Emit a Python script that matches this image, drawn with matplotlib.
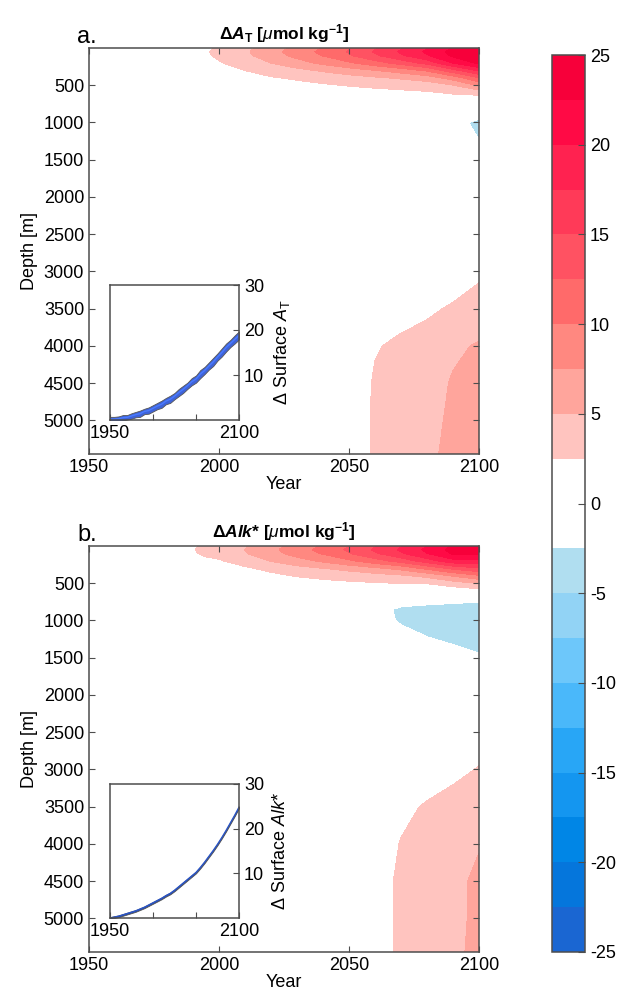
import numpy as np
import matplotlib
matplotlib.use('Agg')
import matplotlib.pyplot as plt
from matplotlib.colors import ListedColormap, BoundaryNorm

plt.rcParams['font.family'] = ['Liberation Sans', 'DejaVu Sans']
plt.rcParams['axes.unicode_minus'] = False
plt.rcParams['mathtext.fontset'] = 'custom'
plt.rcParams['mathtext.rm'] = 'Liberation Sans'
plt.rcParams['mathtext.it'] = 'Liberation Sans:italic'
plt.rcParams['mathtext.bf'] = 'Liberation Sans:bold'
plt.rcParams['mathtext.bfit'] = 'Liberation Sans:italic:bold'

# grid of the sections (columns = years, rows = depth)
years = [1950, 1990, 1995, 2000, 2010, 2020, 2030, 2040, 2050, 2060, 2070, 2080, 2090, 2100]
depths = [0, 50, 100, 200, 300, 400, 500, 600, 700, 850, 1000, 1200, 1500,
          2000, 2500, 3000, 3500, 4000, 4500, 5000, 5450]

d_at = [
    [0.2, 1.4, 2.1, 2.8, 4.3, 6.2, 8.2, 10.1, 12.2, 14.7, 17.2, 19.8, 22.6, 24.9],
    [0.2, 1.5, 2.3, 3.0, 4.6, 6.6, 8.6, 10.6, 12.7, 15.2, 17.8, 20.4, 23.3, 24.9],
    [0.2, 1.4, 2.2, 2.9, 4.4, 6.3, 8.2, 10.1, 12.2, 14.6, 17.1, 19.7, 23.0, 24.4],
    [0.1, 1.0, 1.6, 2.3, 3.5, 5.0, 6.5, 8.0, 9.6, 11.4, 13.4, 15.8, 20.0, 23.0],
    [0.1, 0.7, 1.1, 1.6, 2.5, 3.4, 4.3, 5.3, 6.3, 7.4, 8.6, 10.3, 14.0, 17.8],
    [0.0, 0.5, 0.8, 1.1, 1.7, 2.3, 2.8, 3.4, 4.0, 4.6, 5.3, 6.2, 8.5, 12.3],
    [0.0, 0.3, 0.5, 0.7, 1.1, 1.5, 1.8, 2.2, 2.6, 2.9, 3.2, 3.6, 4.8, 7.8],
    [0.0, 0.2, 0.3, 0.5, 0.7, 1.0, 1.2, 1.4, 1.6, 1.8, 2.0, 2.2, 2.7, 3.2],
    [0.0, 0.1, 0.2, 0.3, 0.4, 0.6, 0.7, 0.8, 0.9, 1.0, 1.1, 1.2, 1.4, 1.0],
    [0.0, 0.0, 0.1, 0.1, 0.2, 0.3, 0.3, 0.4, 0.4, 0.4, 0.4, 0.4, 0.3, -1.0],
    [0.0, 0.0, 0.0, 0.0, 0.0, 0.0, 0.0, 0.0, 0.0, -0.2, -0.4, -0.6, -1.5, -3.2],
    [0.0, 0.0, 0.0, 0.0, 0.0, 0.0, 0.0, 0.0, -0.1, -0.2, -0.4, -0.6, -1.0, -2.6],
    [0.0, 0.0, 0.0, 0.0, 0.0, 0.0, 0.0, 0.0, 0.0, -0.1, -0.2, -0.3, -0.5, -1.0],
    [0.0, 0.0, 0.0, 0.0, 0.0, 0.0, 0.0, 0.0, 0.0, 0.0, 0.0, 0.0, 0.0, 0.0],
    [0.0, 0.0, 0.0, 0.0, 0.0, 0.0, 0.1, 0.1, 0.2, 0.3, 0.4, 0.5, 0.7, 1.0],
    [0.0, 0.0, 0.0, 0.0, 0.1, 0.1, 0.2, 0.2, 0.3, 0.5, 0.8, 1.0, 1.5, 2.0],
    [0.0, 0.0, 0.0, 0.1, 0.1, 0.2, 0.3, 0.4, 0.5, 0.8, 1.5, 2.2, 2.7, 3.6],
    [0.0, 0.0, 0.0, 0.1, 0.1, 0.2, 0.3, 0.4, 0.3, 2.3, 3.0, 3.2, 4.6, 5.2],
    [0.0, 0.0, 0.0, 0.1, 0.2, 0.2, 0.3, 0.4, 0.5, 2.8, 3.4, 4.0, 5.2, 6.0],
    [0.0, 0.0, 0.0, 0.1, 0.2, 0.3, 0.4, 0.5, 0.6, 2.9, 3.6, 4.3, 5.4, 6.3],
    [0.0, 0.0, 0.0, 0.1, 0.2, 0.3, 0.4, 0.5, 0.7, 2.9, 3.7, 4.5, 5.6, 6.5],
]

d_alk = [
    [0.3, 2.3, 2.8, 3.2, 4.8, 6.6, 8.4, 10.3, 12.4, 14.8, 17.3, 20.0, 22.8, 24.9],
    [0.3, 2.4, 2.9, 3.3, 5.0, 6.9, 8.8, 10.8, 12.9, 15.3, 17.8, 20.5, 23.3, 24.5],
    [0.3, 2.3, 2.8, 3.1, 4.8, 6.6, 8.4, 10.2, 12.3, 14.6, 17.1, 19.9, 22.8, 23.2],
    [0.2, 1.7, 2.1, 2.3, 3.3, 5.1, 6.5, 7.9, 9.5, 11.4, 13.4, 16.2, 19.0, 19.2],
    [0.1, 1.2, 1.5, 1.6, 2.2, 3.0, 4.1, 4.9, 5.8, 6.9, 8.2, 10.5, 13.0, 14.6],
    [0.1, 0.8, 1.0, 1.1, 1.5, 2.0, 2.6, 3.0, 3.4, 3.9, 4.5, 5.6, 7.6, 9.5],
    [0.0, 0.5, 0.6, 0.7, 1.0, 1.3, 1.6, 1.9, 2.1, 2.3, 2.5, 2.6, 3.8, 5.0],
    [0.0, 0.3, 0.4, 0.5, 0.7, 0.8, 1.0, 1.1, 1.2, 1.2, 1.0, 0.2, 0.8, 1.5],
    [0.0, 0.2, 0.2, 0.3, 0.4, 0.5, 0.5, 0.5, 0.4, -0.5, -1.0, -1.8, -1.9, -2.0],
    [0.0, 0.1, 0.1, 0.1, 0.1, 0.1, 0.0, -0.1, -0.3, -1.5, -3.0, -3.0, -3.2, -3.5],
    [0.0, 0.0, 0.0, 0.0, 0.0, 0.0, -0.1, -0.2, -0.4, -1.4, -2.8, -3.1, -3.5, -3.8],
    [0.0, 0.0, 0.0, 0.0, 0.0, 0.0, -0.1, -0.2, -0.3, -1.0, -1.8, -2.6, -3.0, -3.3],
    [0.0, 0.0, 0.0, 0.0, 0.0, 0.0, 0.0, -0.1, -0.2, -0.5, -0.8, -1.2, -1.8, -2.3],
    [0.0, 0.0, 0.0, 0.0, 0.0, 0.0, 0.0, 0.0, 0.0, -0.1, -0.2, -0.3, -0.4, -0.5],
    [0.0, 0.0, 0.0, 0.0, 0.1, 0.1, 0.1, 0.2, 0.2, 0.3, 0.5, 0.7, 1.0, 1.5],
    [0.0, 0.0, 0.0, 0.1, 0.1, 0.2, 0.2, 0.3, 0.4, 0.6, 1.0, 1.4, 2.0, 2.6],
    [0.0, 0.0, 0.0, 0.1, 0.2, 0.2, 0.3, 0.4, 0.5, 0.8, 2.0, 2.7, 3.2, 3.8],
    [0.0, 0.0, 0.0, 0.1, 0.2, 0.3, 0.3, 0.4, 0.6, 1.2, 2.6, 3.4, 4.0, 4.8],
    [0.0, 0.0, 0.0, 0.1, 0.2, 0.3, 0.4, 0.5, 0.7, 1.5, 2.9, 3.6, 4.2, 5.6],
    [0.0, 0.0, 0.0, 0.1, 0.2, 0.3, 0.4, 0.5, 0.7, 1.4, 2.9, 3.5, 4.0, 5.8],
    [0.0, 0.0, 0.0, 0.1, 0.2, 0.3, 0.4, 0.5, 0.7, 1.4, 2.9, 3.6, 4.3, 5.8],
]

# surface time series for the insets
surf_years = [1950, 1955, 1960, 1965, 1970, 1975, 1980, 1985, 1990, 1995, 2000,
              2005, 2010, 2015, 2020, 2025, 2030, 2035, 2040, 2045, 2050,
              2055, 2060, 2065, 2070, 2075, 2080, 2085, 2090, 2095, 2100]
surf_at = [0.2, 0.2, 0.3, 0.5, 0.6, 0.9, 1.2, 1.4, 1.9, 2.1, 2.6,
           3.1, 3.5, 4.2, 4.6, 5.3, 6.1, 6.8, 7.6, 8.5, 9.1,
           10.2, 11.0, 12.0, 12.9, 14.0, 15.0, 16.1, 17.0, 17.9, 18.8]
surf_at_err = [0.5, 0.5, 0.5, 0.6, 0.5, 0.6, 0.6, 0.7, 0.6, 0.7, 0.7,
               0.7, 0.8, 0.7, 0.8, 0.7, 0.8, 0.8, 0.7, 0.8, 0.8,
               0.9, 0.8, 0.8, 0.9, 0.8, 0.9, 0.9, 0.8, 0.9, 0.9]
surf_alk = [0.0, 0.2, 0.4, 0.7, 1.0, 1.3, 1.6, 2.0, 2.4, 2.9, 3.4,
            3.9, 4.4, 5.0, 5.5, 6.2, 7.0, 7.8, 8.6, 9.4, 10.2,
            11.3, 12.5, 13.8, 15.1, 16.5, 18.0, 19.6, 21.3, 23.0, 24.8]
surf_alk_err = [0.2, 0.2, 0.2, 0.2, 0.2, 0.2, 0.2, 0.2, 0.2, 0.2, 0.2,
                0.2, 0.2, 0.2, 0.2, 0.2, 0.2, 0.2, 0.2, 0.2, 0.2,
                0.2, 0.2, 0.2, 0.2, 0.2, 0.2, 0.2, 0.2, 0.2, 0.2]

levels = np.arange(-25, 25.1, 2.5)
colors = ['#1A66D2', '#0576DC', '#0086E6', '#1496F0', '#28A6F6', '#4AB8FA',
          '#6DC7FA', '#92D3F5', '#B0DEF0', '#FFFFFF', '#FFFFFF', '#FFC4BF',
          '#FFA59C', '#FF8880', '#FF6A6A', '#FF5262', '#FF3A58', '#FF2250',
          '#FF0A45', '#F7003A']
cmap = ListedColormap(colors)
norm = BoundaryNorm(levels, cmap.N)

spine_col = '#4d4d4d'
W, H = 619, 993
fig = plt.figure(figsize=(W / 100, H / 100), dpi=100)


def pos(x0, y0, x1, y1):
    return [x0 / W, 1 - y1 / H, (x1 - x0) / W, (y1 - y0) / H]


def style(ax):
    for s in ax.spines.values():
        s.set_color(spine_col)
        s.set_linewidth(1.1)
    ax.tick_params(direction='in', color=spine_col, length=4, labelsize=13,
                   top=True, right=True)


panels = [
    (d_at, 48, 454, 'a.', r'$\mathbf{\Delta}\mathbfit{A}_{\mathbf{T}}$ [$\mu$mol kg$^{\mathbf{-1}}$]',
     surf_at, surf_at_err, 285, 420, r'$\Delta$ Surface $A_{\rm T}$', '#4A7BFF', '#3F63D8'),
    (d_alk, 546, 952, 'b.', r'$\mathbf{\Delta}\mathbfit{Alk}$* [$\mu$mol kg$^{\mathbf{-1}}$]',
     surf_alk, surf_alk_err, 784, 918, r'$\Delta$ Surface $Alk$*', '#2A55C8', '#24469E'),
]

for field, top, bot, letter, title, surf, err, itop, ibot, ilab, lcol, bcol in panels:
    ax = fig.add_axes(pos(89, top, 479, bot))
    cs = ax.contourf(years, depths, field, levels=levels, cmap=cmap, norm=norm)
    cs.set_edgecolor('face')
    cs.set_linewidth(0.3)
    ax.set_xlim(1950, 2100)
    ax.set_ylim(5450, 0)
    ax.set_xticks([1950, 2000, 2050, 2100])
    ax.set_yticks(range(500, 5001, 500))
    ax.set_xlabel('Year', fontsize=13, labelpad=0)
    ax.set_ylabel('Depth [m]', fontsize=13)
    ax.set_title(title, fontsize=12.5, fontweight='bold', pad=6)
    style(ax)
    fig.text(77 / W, 1 - (top - 11) / H, letter, fontsize=17, va='center')

    ins = fig.add_axes(pos(110, itop, 239, ibot))
    lo = [s - e for s, e in zip(surf, err)]
    hi = [s + e for s, e in zip(surf, err)]
    ins.fill_between(surf_years, lo, hi, facecolor=bcol, edgecolor='#555555', lw=0.6)
    ins.plot(surf_years, surf, color=lcol, lw=1.0)
    ins.set_xlim(1950, 2100)
    ins.set_ylim(0, 30)
    ins.set_xticks([1950, 2000, 2050, 2100])
    ins.set_xticklabels(['1950', '', '', '2100'])
    ins.set_yticks([10, 20, 30])
    style(ins)
    ins.tick_params(left=False, labelleft=False, labelright=True, top=False)
    ins.yaxis.set_label_position('right')
    ins.set_ylabel(ilab, fontsize=13, labelpad=6)
    if letter == 'a.':
        cs_ref = cs

cax = fig.add_axes(pos(552, 55, 585, 952))
cb = fig.colorbar(cs_ref, cax=cax, ticks=range(-25, 26, 5))
cb.minorticks_off()
cb.outline.set_edgecolor(spine_col)
cb.outline.set_linewidth(1.1)
cax.tick_params(direction='in', color=spine_col, length=5, labelsize=13)

fig.savefig('out.png', dpi=100, facecolor='white')
